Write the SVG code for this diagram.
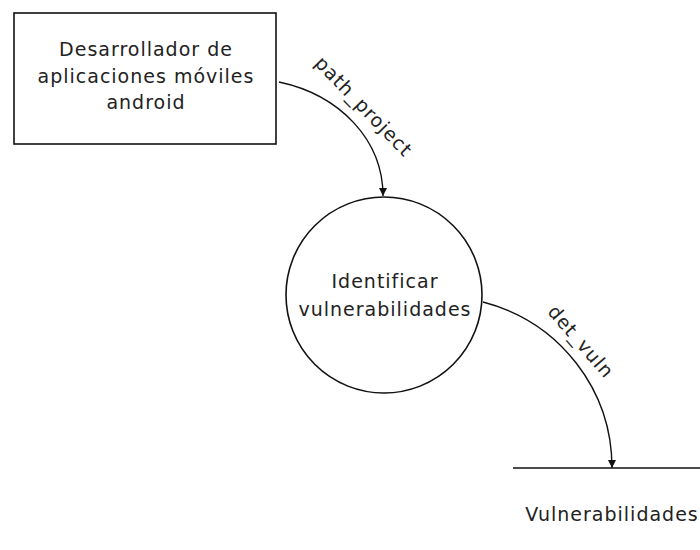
<svg xmlns="http://www.w3.org/2000/svg" width="700" height="550" viewBox="0 0 700 550">
<style>
text{font-family:"DejaVu Sans",sans-serif;font-size:19px;letter-spacing:1px;fill:#222;text-anchor:middle}
.shape{fill:#fff;stroke:#111;stroke-width:1.6}
.flow{fill:none;stroke:#111;stroke-width:1.4}
</style>
<defs>
<marker id="ah" viewBox="0 0 10 10" refX="10" refY="5" markerWidth="8" markerHeight="8" markerUnits="userSpaceOnUse" orient="auto">
<path d="M0,0 L10,5 L0,10 Z" fill="#111"/>
</marker>
</defs>
<rect width="700" height="550" fill="#fff"/>
<g id="developer">
<rect class="shape" x="14" y="13" width="262" height="131"/>
<text x="146" y="56">Desarrollador de</text>
<text x="146" y="83">aplicaciones móviles</text>
<text x="146" y="109">android</text>
</g>
<g id="identify">
<circle class="shape" cx="384" cy="295" r="98"/>
<text x="385" y="288">Identificar</text>
<text x="385" y="316">vulnerabilidades</text>
</g>
<g id="store">
<line x1="513" y1="468" x2="700" y2="468" stroke="#111" stroke-width="1.6"/>
<text x="612" y="521">Vulnerabilidades</text>
</g>
<g id="connectors">
<path class="flow" d="M279,82 C340,95 383,140 383,196" marker-end="url(#ah)"/>
<text transform="translate(359,111) rotate(46)">path_project</text>
<path class="flow" d="M483,302 C560,322 612,390 612,468" marker-end="url(#ah)"/>
<text transform="translate(576,346) rotate(49)">det_vuln</text>
</g>
</svg>
